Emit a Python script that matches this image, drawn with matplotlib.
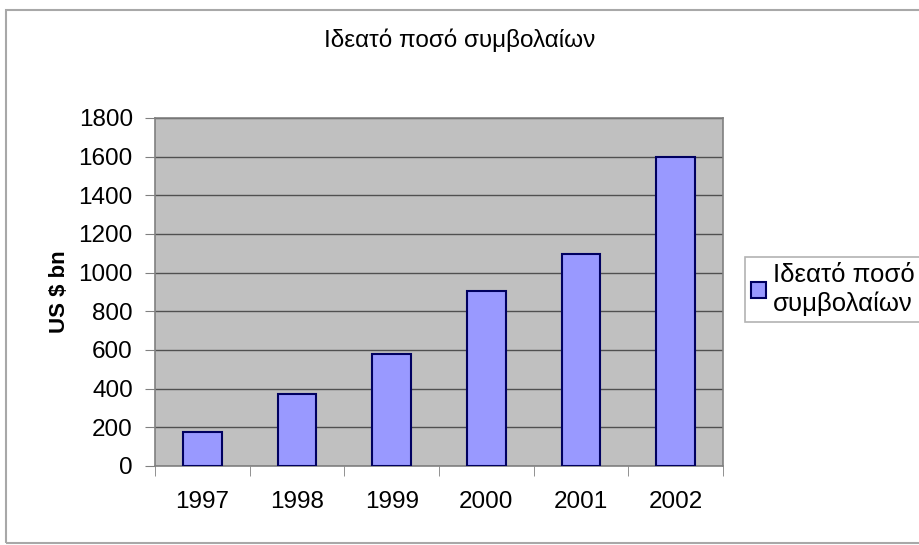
import matplotlib.pyplot as plt
from matplotlib.patches import Rectangle
import numpy as np

plt.rcParams['font.family'] = ['Liberation Sans', 'DejaVu Sans']

# data
years = ['1997', '1998', '1999', '2000', '2001', '2002']
values = [178, 370, 580, 905, 1097, 1600]
yticks = [0, 200, 400, 600, 800, 1000, 1200, 1400, 1600, 1800]
title = 'Ιδεατό ποσό συμβολαίων'
ylabel = 'US $ bn'
series_name = 'Ιδεατό ποσό\nσυμβολαίων'

fig = plt.figure(figsize=(9.2, 5.45), dpi=100)
ax = fig.add_axes([155 / 920, 1 - 466 / 545, (723 - 155) / 920, (466 - 118) / 545])

# outer chart frame (runs off the right edge like the screenshot)
fig.patches.append(Rectangle((6 / 920, 1 - 543 / 545), 1.0, (543 - 10) / 545,
                             transform=fig.transFigure, fill=False,
                             edgecolor='#a8a8a8', linewidth=1.5))

x = np.arange(len(years))
ax.set_facecolor('#c0c0c0')
ax.bar(x, values, width=0.41, color='#9999ff', edgecolor='#000060',
       linewidth=1.5, zorder=3, label=series_name)

ax.set_ylim(0, 1800)
ax.set_xlim(-0.5, len(years) - 0.5)
ax.set_yticks(yticks)
ax.set_yticklabels([str(t) for t in yticks], fontsize=17.5)
ax.grid(axis='y', color='#505050', linewidth=1, zorder=1)

ax.set_xticks(x)
ax.set_xticklabels(years, fontsize=17.5)
ax.set_xticks(np.arange(len(years) + 1) - 0.5, minor=True)
ax.tick_params(axis='x', which='major', length=0, pad=18)
ax.tick_params(axis='x', which='minor', length=7, color='#808080')
ax.tick_params(axis='y', length=7, color='#808080', pad=9)

for s in ax.spines.values():
    s.set_color('#808080')
    s.set_linewidth(1.2)

ax.set_ylabel(ylabel, fontsize=16, fontweight='bold', labelpad=6)
fig.text(0.5, 1 - 40 / 545, title, ha='center', va='center', fontsize=17.5)

leg = fig.legend(loc='upper left', bbox_to_anchor=(745 / 920, 1 - 257 / 545),
                 fontsize=18.5, frameon=True, fancybox=False, borderpad=0.25,
                 handlelength=0.55, handleheight=0.55, handletextpad=0.3,
                 borderaxespad=0)
leg.get_frame().set_edgecolor('#a0a0a0')
leg.get_frame().set_linewidth(1.2)

fig.savefig('out.png', dpi=100)
